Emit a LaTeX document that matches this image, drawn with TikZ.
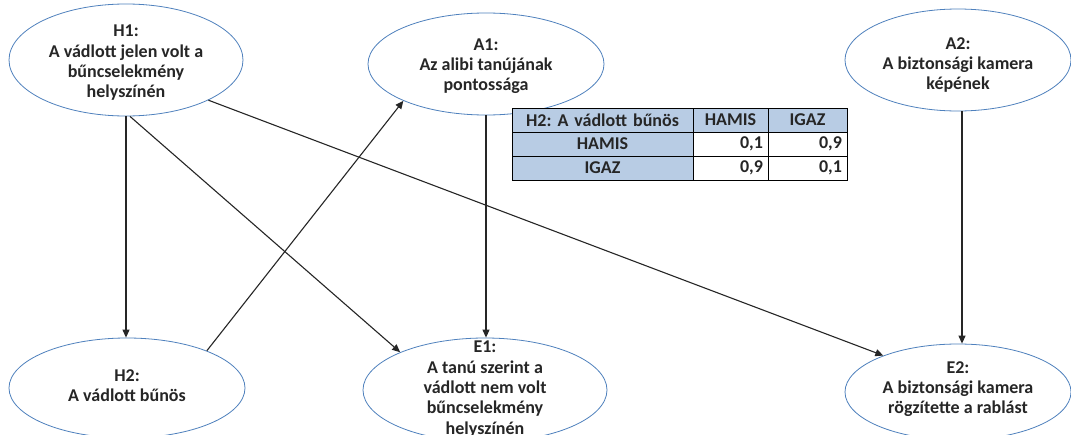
\documentclass[tikz,border=0pt]{standalone}
\usepackage{fontspec}
\setmainfont{Carlito}
\frenchspacing
\usetikzlibrary{shapes.geometric,arrows.meta}
\definecolor{ellblue}{HTML}{4F81BD}
\definecolor{hdrblue}{HTML}{B8CCE4}
\definecolor{linegray}{HTML}{262626}
\begin{document}
\begin{tikzpicture}[x=1pt,y=-1pt,
  ell/.style={ellipse, draw=ellblue, line width=0.8pt, fill=white, inner sep=0pt},
  lbl/.style={align=center, font=\bfseries\fontsize{18}{20.3}\selectfont, text=black!85},
  arr/.style={draw=linegray, line width=1.1pt, -{Triangle[length=8pt,width=7pt]}},
  cell/.style={draw=black, line width=0.9pt, minimum height=24pt, inner ysep=0pt, inner xsep=5pt, font=\bfseries\fontsize{18}{20}\selectfont, text=black!85},
]
\useasboundingbox[fill=white] (0,0) rectangle (1071,434);

% ellipses
\node[ell, minimum width=234pt, minimum height=112pt] (H1) at (126,60) {};
\node[lbl] (H1t) at (126,63) {H1:\\A vádlott jelen volt a\\bűncselekmény\\helyszínén};
\node[ell, minimum width=236pt, minimum height=102pt] (A1) at (486,64) {};
\node[lbl] (A1t) at (486,66) {A1:\\Az alibi tanújának\\pontossága};
\node[ell, minimum width=226pt, minimum height=102pt] (A2) at (958,60) {};
\node[lbl] (A2t) at (958,65) {A2:\\A biztonsági kamera\\képének};
\node[ell, minimum width=236pt, minimum height=100pt] (H2) at (127,388) {};
\node[lbl] (H2t) at (127,386) {H2:\\A vádlott bűnös};
\node[ell, minimum width=244pt, minimum height=104pt] (E1) at (485,390) {};
\node[lbl] (E1t) at (485,389) {E1:\\A tanú szerint a\\vádlott nem volt\\bűncselekmény\\helyszínén};
\node[ell, minimum width=226pt, minimum height=96pt] (E2) at (958,392) {};
\node[lbl] (E2t) at (958,389) {E2:\\A biztonsági kamera\\rögzítette a rablást};

% table
\node[cell, fill=hdrblue, text width=171pt, align=center] (T11) at (602.5,120) {H2: A vádlott bűnös};
\node[cell, fill=hdrblue, text width=65pt, align=center] (T12) at (730.5,120) {HAMIS};
\node[cell, fill=hdrblue, text width=69pt, align=center] (T13) at (807.5,120) {IGAZ};
\node[cell, fill=hdrblue, text width=171pt, align=center] (T21) at (602.5,144) {HAMIS};
\node[cell, fill=white, text width=65pt, align=right] (T22) at (730.5,144) {0,1};
\node[cell, fill=white, text width=69pt, align=right] (T23) at (807.5,144) {0,9};
\node[cell, fill=hdrblue, text width=171pt, align=center] (T31) at (602.5,168) {IGAZ};
\node[cell, fill=white, text width=65pt, align=right] (T32) at (730.5,168) {0,9};
\node[cell, fill=white, text width=69pt, align=right] (T33) at (807.5,168) {0,1};

% arrows
\draw[arr] (H1.south) -- (H1.south |- H2.north);
\draw[arr] (H1.-86) -- (E1.156);
\draw[arr] (H1.-26) -- (E2.154);
\draw[arr] (H2.25) -- (A1.204);
\draw[arr] (A1.south) -- (A1.south |- E1.north);
\draw[arr] ([xshift=4pt]A2.south) -- ([xshift=4pt]A2.south |- E2.north);
\end{tikzpicture}
\end{document}
